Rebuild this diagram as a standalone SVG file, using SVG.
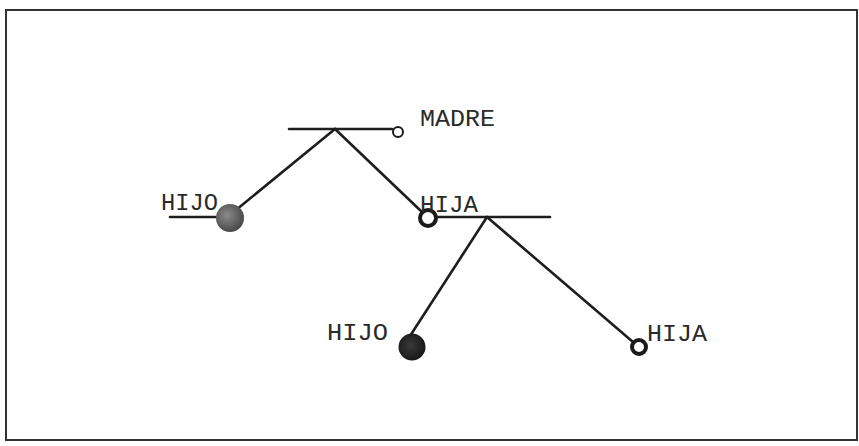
<svg xmlns="http://www.w3.org/2000/svg" width="859" height="446" viewBox="0 0 859 446">
<defs>
<radialGradient id="gHijo" cx="0.4" cy="0.4" r="0.6">
<stop offset="0" stop-color="#8a8a8a"/>
<stop offset="1" stop-color="#4a4a4a"/>
</radialGradient>
<radialGradient id="gDark" cx="0.45" cy="0.45" r="0.6">
<stop offset="0" stop-color="#3a3a3a"/>
<stop offset="1" stop-color="#151515"/>
</radialGradient>
</defs>
<style>
.ln{stroke:#1e1e1e;stroke-width:2.6;fill:none;stroke-linecap:round}
.lbl{font-family:"Liberation Mono","Courier New",monospace;font-size:23px;fill:#2a2a2a}
.ring{fill:#fff;stroke:#1a1a1a}
</style>
<rect x="0" y="0" width="859" height="446" fill="#fff"/>
<rect x="6" y="10" width="851" height="430" fill="none" stroke="#333" stroke-width="2"/>
<g id="connectors">
<line class="ln" x1="289" y1="129" x2="392" y2="129"/>
<line class="ln" x1="335" y1="129" x2="236" y2="210"/>
<line class="ln" x1="335" y1="129" x2="422" y2="212"/>
<line class="ln" x1="170" y1="217" x2="218" y2="217"/>
<line class="ln" x1="437" y1="217" x2="550" y2="217"/>
<line class="ln" x1="487" y1="217" x2="410" y2="336"/>
<line class="ln" x1="487" y1="217" x2="633" y2="342"/>
</g>
<g id="madre">
<circle class="ring" cx="398" cy="132" r="5" stroke-width="2"/>
<text class="lbl" x="420" y="126" textLength="75" lengthAdjust="spacingAndGlyphs">MADRE</text>
</g>
<g id="hijo1">
<circle cx="230" cy="218" r="14" fill="url(#gHijo)"/>
<text class="lbl" x="161" y="210" textLength="57" lengthAdjust="spacingAndGlyphs">HIJO</text>
</g>
<g id="hija1">
<circle class="ring" cx="428" cy="218" r="8" stroke-width="4"/>
<text class="lbl" x="420" y="212" textLength="58" lengthAdjust="spacingAndGlyphs">HIJA</text>
</g>
<g id="hijo2">
<circle cx="412" cy="347" r="13.5" fill="url(#gDark)"/>
<text class="lbl" x="327" y="340" textLength="61" lengthAdjust="spacingAndGlyphs">HIJO</text>
</g>
<g id="hija2">
<circle class="ring" cx="639" cy="347" r="7" stroke-width="4"/>
<text class="lbl" x="647" y="341" textLength="60" lengthAdjust="spacingAndGlyphs">HIJA</text>
</g>
</svg>
